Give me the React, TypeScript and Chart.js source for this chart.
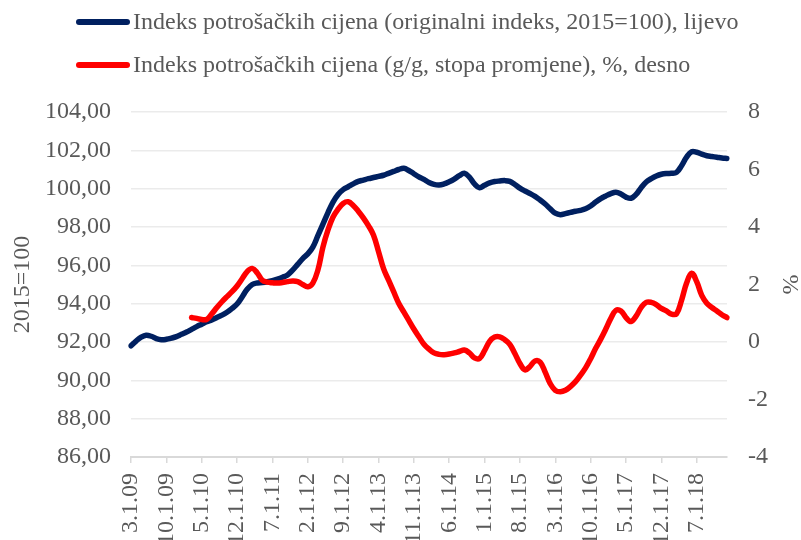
import React, { useEffect, useRef } from "react";
import { Chart, registerables } from "chart.js";

Chart.register(...registerables);

// Monthly categories (m.d.yy), March 2009 – January 2019
const categories: string[] = [
  "3.1.09", "4.1.09", "5.1.09", "6.1.09", "7.1.09", "8.1.09", "9.1.09", "10.1.09", "11.1.09", "12.1.09",
  "1.1.10", "2.1.10", "3.1.10", "4.1.10", "5.1.10", "6.1.10", "7.1.10", "8.1.10", "9.1.10", "10.1.10", "11.1.10", "12.1.10",
  "1.1.11", "2.1.11", "3.1.11", "4.1.11", "5.1.11", "6.1.11", "7.1.11", "8.1.11", "9.1.11", "10.1.11", "11.1.11", "12.1.11",
  "1.1.12", "2.1.12", "3.1.12", "4.1.12", "5.1.12", "6.1.12", "7.1.12", "8.1.12", "9.1.12", "10.1.12", "11.1.12", "12.1.12",
  "1.1.13", "2.1.13", "3.1.13", "4.1.13", "5.1.13", "6.1.13", "7.1.13", "8.1.13", "9.1.13", "10.1.13", "11.1.13", "12.1.13",
  "1.1.14", "2.1.14", "3.1.14", "4.1.14", "5.1.14", "6.1.14", "7.1.14", "8.1.14", "9.1.14", "10.1.14", "11.1.14", "12.1.14",
  "1.1.15", "2.1.15", "3.1.15", "4.1.15", "5.1.15", "6.1.15", "7.1.15", "8.1.15", "9.1.15", "10.1.15", "11.1.15", "12.1.15",
  "1.1.16", "2.1.16", "3.1.16", "4.1.16", "5.1.16", "6.1.16", "7.1.16", "8.1.16", "9.1.16", "10.1.16", "11.1.16", "12.1.16",
  "1.1.17", "2.1.17", "3.1.17", "4.1.17", "5.1.17", "6.1.17", "7.1.17", "8.1.17", "9.1.17", "10.1.17", "11.1.17", "12.1.17",
  "1.1.18", "2.1.18", "3.1.18", "4.1.18", "5.1.18", "6.1.18", "7.1.18", "8.1.18", "9.1.18", "10.1.18", "11.1.18", "12.1.18",
  "1.1.19",
];

// Labels shown on the x axis
const tickLabels: string[] = [
  "3.1.09", "10.1.09", "5.1.10", "12.1.10", "7.1.11", "2.1.12", "9.1.12", "4.1.13", "11.1.13",
  "6.1.14", "1.1.15", "8.1.15", "3.1.16", "10.1.16", "5.1.17", "12.1.17", "7.1.18",
];

// CPI original index, 2015=100 (left axis)
const cpiIndex: number[] = [
  91.80, 92.05, 92.25, 92.35, 92.30, 92.18, 92.12, 92.14, 92.20, 92.28,
  92.40, 92.52, 92.66, 92.80, 92.93, 93.06, 93.15, 93.28, 93.40, 93.55, 93.75, 93.98,
  94.35, 94.75, 95.00, 95.08, 95.10, 95.14, 95.20, 95.28, 95.38, 95.50, 95.75, 96.05,
  96.35, 96.60, 96.95, 97.55, 98.15, 98.75, 99.30, 99.70, 99.95, 100.10, 100.25, 100.38,
  100.45, 100.52, 100.58, 100.64, 100.70, 100.80, 100.90, 101.00, 101.06, 100.95, 100.78, 100.62,
  100.48, 100.32, 100.22, 100.19, 100.25, 100.36, 100.50, 100.68, 100.80, 100.60, 100.25, 100.05,
  100.18, 100.30, 100.37, 100.40, 100.42, 100.38, 100.22, 100.03, 99.88, 99.75, 99.60, 99.41,
  99.20, 98.95, 98.72, 98.64, 98.70, 98.76, 98.82, 98.87, 98.95, 99.10, 99.30, 99.48,
  99.62, 99.74, 99.81, 99.72, 99.56, 99.50, 99.70, 100.05, 100.35, 100.52, 100.66, 100.75,
  100.79, 100.80, 100.85, 101.20, 101.65, 101.93, 101.90, 101.80, 101.72, 101.68, 101.64, 101.60,
  101.58,
];

// CPI year-on-year rate of change, % (right axis)
const cpiYoY: (number | null)[] = [
  null, null, null, null, null, null, null, null, null, null,
  null, null, 0.85, 0.82, 0.78, 0.79, 0.98, 1.20, 1.40, 1.58, 1.75, 1.95,
  2.20, 2.45, 2.56, 2.40, 2.15, 2.08, 2.06, 2.05, 2.07, 2.10, 2.12, 2.10,
  2.00, 1.92, 2.05, 2.50, 3.30, 3.90, 4.35, 4.62, 4.82, 4.88, 4.75, 4.55,
  4.32, 4.05, 3.72, 3.15, 2.55, 2.15, 1.75, 1.35, 1.05, 0.75, 0.45, 0.18,
  -0.08, -0.25, -0.38, -0.43, -0.44, -0.42, -0.38, -0.33, -0.28, -0.38, -0.55, -0.57,
  -0.30, 0.02, 0.17, 0.18, 0.08, -0.08, -0.40, -0.75, -0.97, -0.85, -0.66, -0.70,
  -1.05, -1.45, -1.68, -1.73, -1.68, -1.55, -1.38, -1.15, -0.90, -0.58, -0.22, 0.10,
  0.45, 0.82, 1.10, 1.08, 0.85, 0.71, 0.90, 1.20, 1.38, 1.38, 1.30, 1.17,
  1.08, 0.97, 0.98, 1.45, 2.05, 2.39, 2.10, 1.62, 1.35, 1.20, 1.08, 0.95,
  0.85,
];

const seriesNames: string[] = [
  "Indeks potrošačkih cijena (originalni indeks, 2015=100), lijevo",
  "Indeks potrošačkih cijena (g/g, stopa promjene), %, desno",
];

const NAVY = "#002060";
const RED = "#FF0000";
const TEXT = "#595959";
const FONT = "'Liberation Serif', 'Times New Roman', serif";
const FS = 24;

const legendPlugin = {
  id: "customLegend",
  afterDraw(chart: any) {
    const ctx = chart.ctx as CanvasRenderingContext2D;
    const rows = [22, 65];
    ctx.save();
    chart.data.datasets.forEach((ds: any, i: number) => {
      const y = rows[i];
      ctx.strokeStyle = ds.borderColor;
      ctx.lineWidth = 6;
      ctx.lineCap = "round";
      ctx.beginPath();
      ctx.moveTo(79, y);
      ctx.lineTo(127, y);
      ctx.stroke();
      ctx.font = `${FS}px ${FONT}`;
      ctx.fillStyle = TEXT;
      ctx.textBaseline = "middle";
      ctx.textAlign = "left";
      ctx.fillText(ds.label, 133, y + 1);
    });
    ctx.restore();
  },
};

export default function App() {
  const ref = useRef<HTMLCanvasElement>(null);

  useEffect(() => {
    document.body.style.margin = "0";
    Chart.defaults.font.family = FONT;
    const chart = new Chart(ref.current as HTMLCanvasElement, {
      type: "line",
      data: {
        labels: categories,
        datasets: [
          {
            label: seriesNames[0],
            data: cpiIndex,
            yAxisID: "y",
            borderColor: NAVY,
            backgroundColor: NAVY,
            borderWidth: 5.5,
            pointRadius: 0,
            tension: 0.4,
            borderCapStyle: "round",
            borderJoinStyle: "round",
            order: 1,
          },
          {
            label: seriesNames[1],
            data: cpiYoY,
            yAxisID: "y1",
            borderColor: RED,
            backgroundColor: RED,
            borderWidth: 5.5,
            pointRadius: 0,
            tension: 0.4,
            borderCapStyle: "round",
            borderJoinStyle: "round",
            spanGaps: false,
            order: 0,
          },
        ],
      },
      options: {
        animation: false,
        responsive: true,
        maintainAspectRatio: false,
        layout: { padding: { top: 112, left: 0, right: 0, bottom: 0 } },
        plugins: {
          legend: { display: false },
          tooltip: { enabled: false },
        },
        scales: {
          x: {
            type: "category",
            offset: false,
            afterFit: (s: any) => {
              s.height = 83;
            },
            grid: {
              display: true,
              drawOnChartArea: false,
              drawTicks: true,
              tickLength: 6,
              lineWidth: 1.5,
              color: (c: any) => (tickLabels.includes(categories[c.index]) ? "#d9d9d9" : "rgba(0,0,0,0)"),
            },
            border: { display: true, color: "#d9d9d9", width: 2 },
            ticks: {
              autoSkip: false,
              maxRotation: 90,
              minRotation: 90,
              padding: 10,
              color: TEXT,
              font: { size: FS, family: FONT },
              callback: (_v: any, i: number) => (tickLabels.includes(categories[i]) ? categories[i] : ""),
            },
          },
          y: {
            position: "left",
            min: 86,
            max: 104,
            afterFit: (s: any) => {
              s.width = 131;
            },
            ticks: {
              stepSize: 2,
              padding: 20,
              color: TEXT,
              font: { size: FS, family: FONT },
              callback: (v: any) => Number(v).toFixed(2).replace(".", ","),
            },
            grid: { color: "#ebebeb", lineWidth: 1.5, drawTicks: false },
            border: { display: false },
            title: {
              display: true,
              text: "2015=100",
              color: TEXT,
              font: { size: FS, family: FONT, lineHeight: 1 },
              padding: { top: 11, bottom: 0 },
            },
          },
          y1: {
            position: "right",
            min: -4,
            max: 8,
            afterFit: (s: any) => {
              s.width = 74;
            },
            ticks: {
              stepSize: 2,
              padding: 21,
              color: TEXT,
              font: { size: FS, family: FONT },
            },
            grid: { drawOnChartArea: false, drawTicks: false },
            border: { display: false },
            title: {
              display: true,
              text: "%",
              color: TEXT,
              font: { size: FS, family: FONT, lineHeight: 1 },
              padding: { top: 0, bottom: 0 },
            },
          },
        },
      },
      plugins: [legendPlugin],
    });
    return () => chart.destroy();
  }, []);

  return (
    <div style={{ position: "relative", width: 801, height: 540 }}>
      <canvas ref={ref} />
    </div>
  );
}
